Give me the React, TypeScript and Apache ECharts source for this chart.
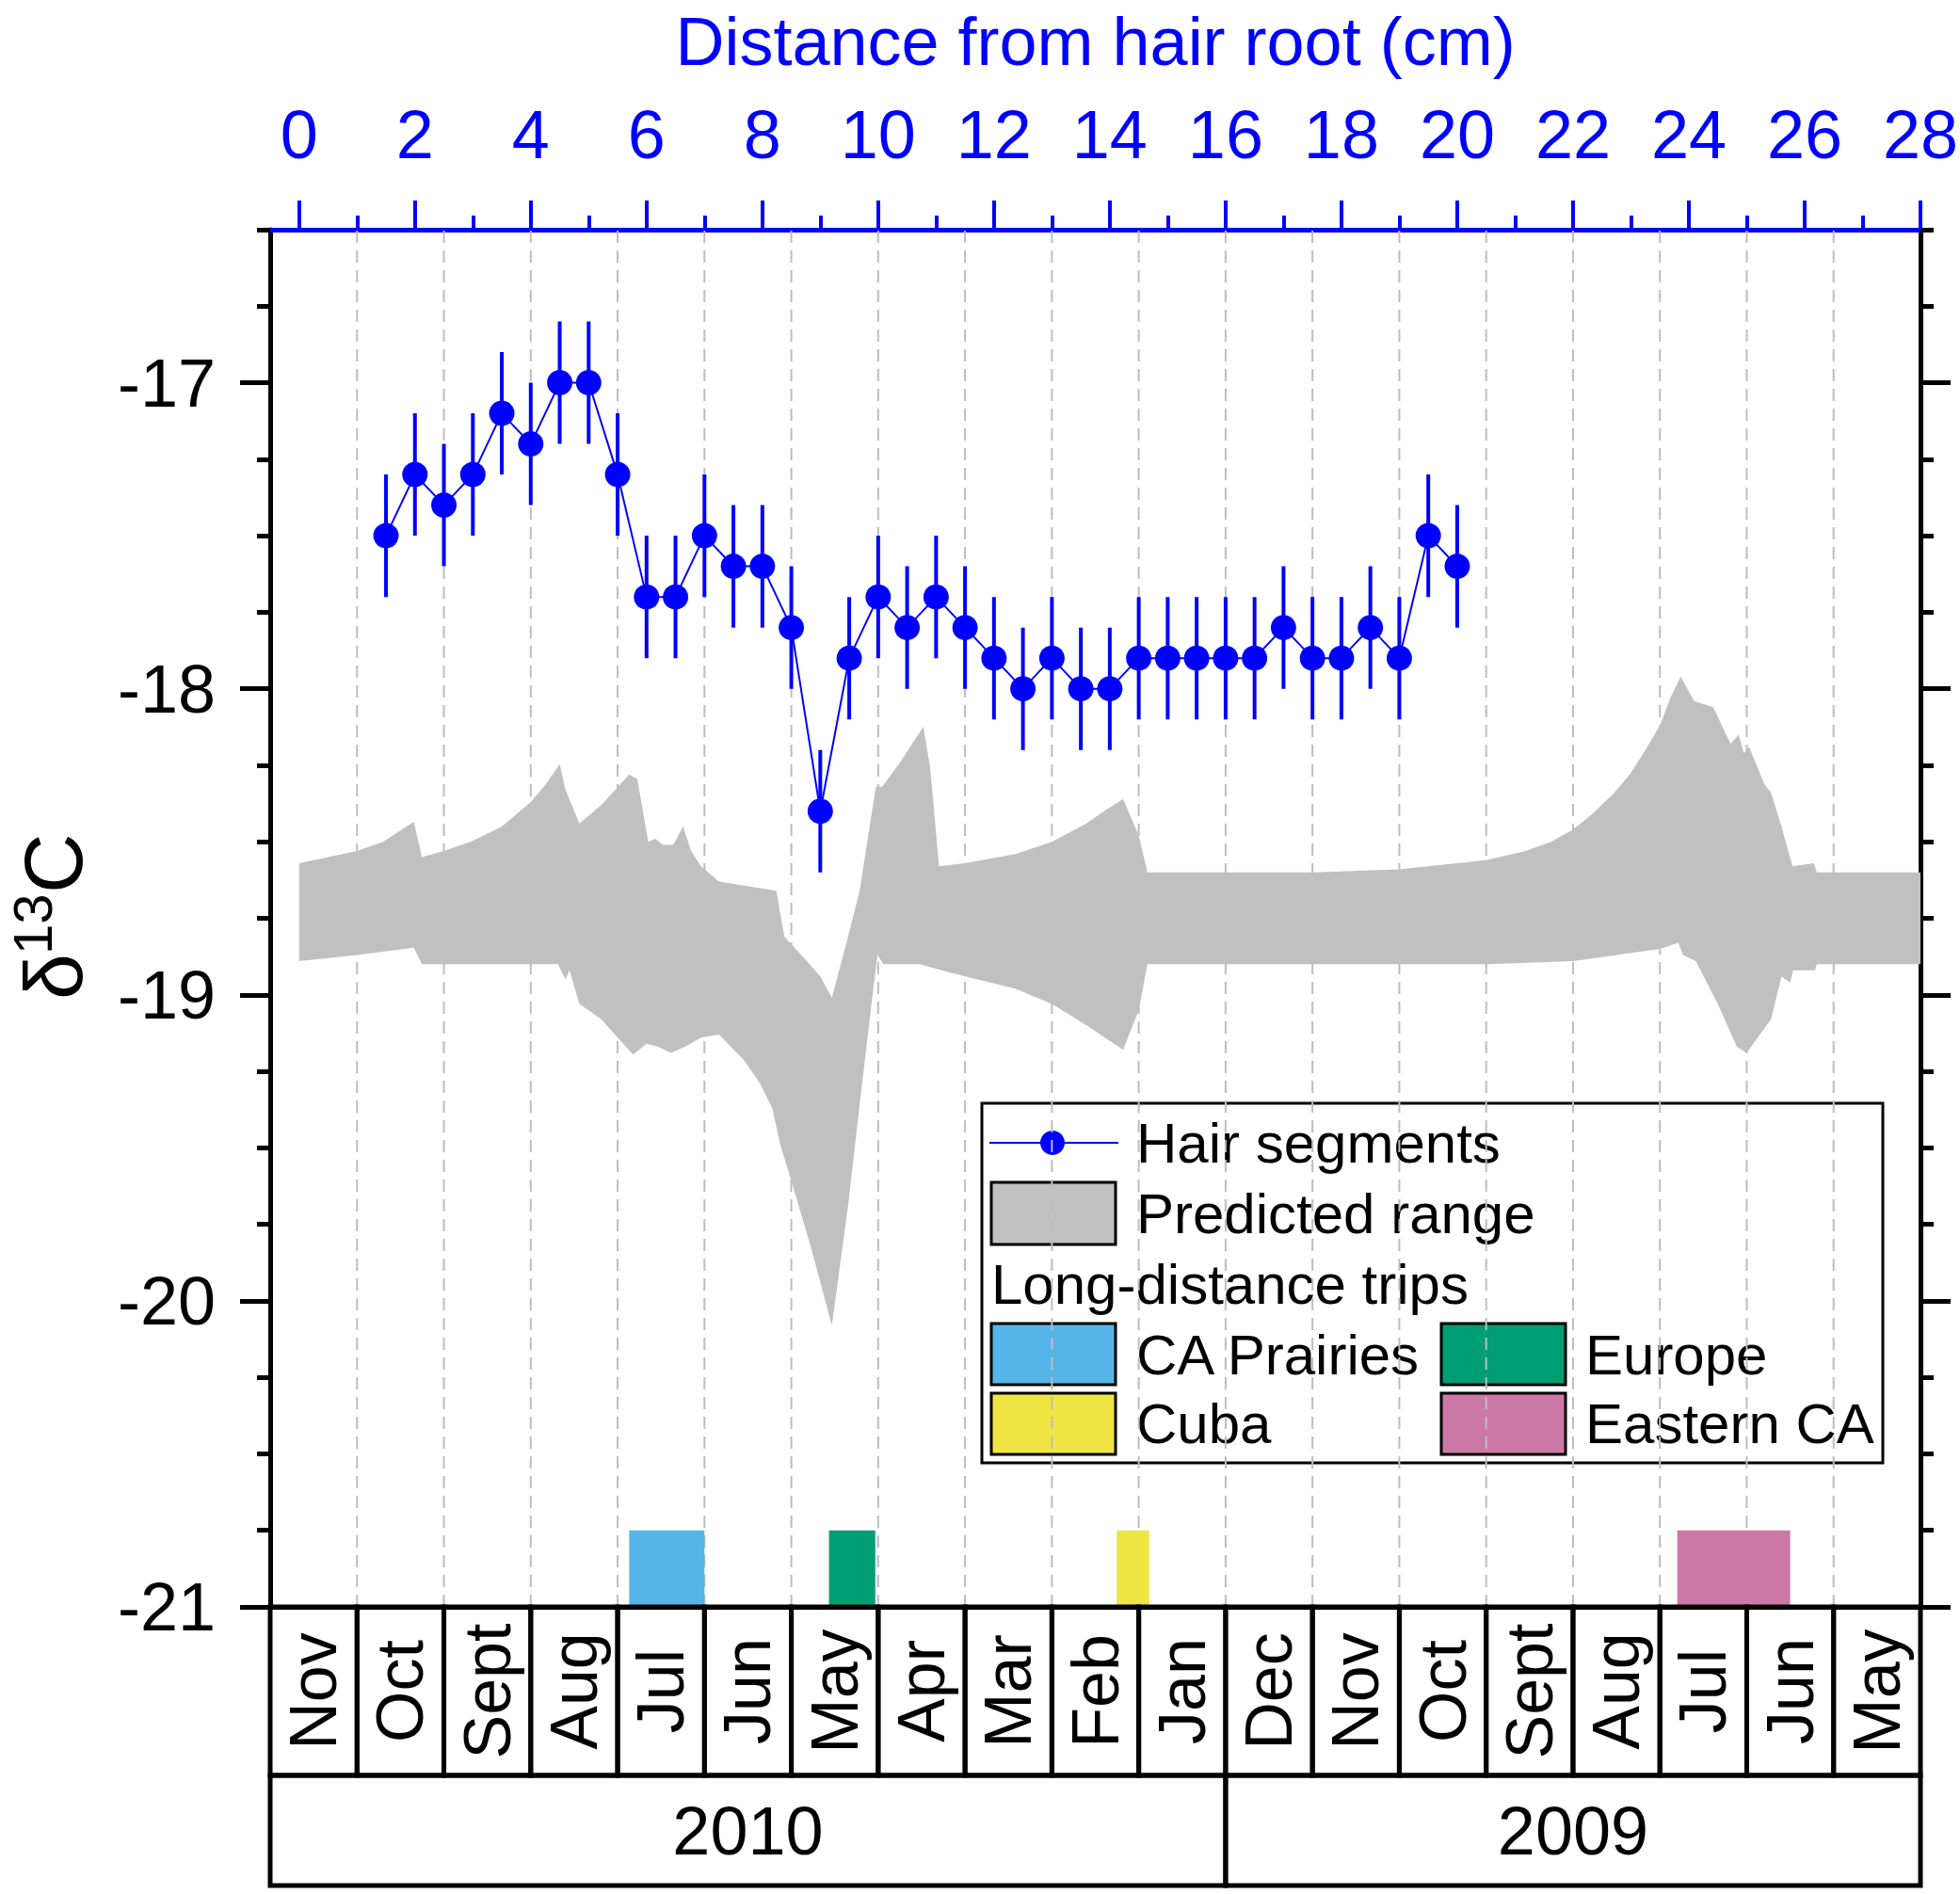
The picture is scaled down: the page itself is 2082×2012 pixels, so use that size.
import React, { useEffect, useRef } from "react";
import * as echarts from "echarts";

const FONT = '"Liberation Sans", Arial, Helvetica, sans-serif';
const BLUE = "#0000FF";

// Hair segment measurements
const hairX = [1.5, 2, 2.5, 3, 3.5, 4, 4.5, 5, 5.5, 6, 6.5, 7, 7.5, 8, 8.5, 9, 9.5, 10, 10.5, 11, 11.5, 12, 12.5, 13, 13.5, 14, 14.5, 15, 15.5, 16, 16.5, 17, 17.5, 18, 18.5, 19, 19.5, 20];
const hairY = [-17.5, -17.3, -17.4, -17.3, -17.1, -17.2, -17.0, -17.0, -17.3, -17.7, -17.7, -17.5, -17.6, -17.6, -17.8, -18.4, -17.9, -17.7, -17.8, -17.7, -17.8, -17.9, -18.0, -17.9, -18.0, -18.0, -17.9, -17.9, -17.9, -17.9, -17.9, -17.8, -17.9, -17.9, -17.8, -17.9, -17.5, -17.6];
const hairErr = [0.2, 0.2, 0.2, 0.2, 0.2, 0.2, 0.2, 0.2, 0.2, 0.2, 0.2, 0.2, 0.2, 0.2, 0.2, 0.2, 0.2, 0.2, 0.2, 0.2, 0.2, 0.2, 0.2, 0.2, 0.2, 0.2, 0.2, 0.2, 0.2, 0.2, 0.2, 0.2, 0.2, 0.2, 0.2, 0.2, 0.2, 0.2];

// Predicted range: upper and lower boundaries [x, d13C]
const bandUpper = [
  [0, -18.57], [1.0, -18.53], [1.45, -18.5], [1.98, -18.435], [2.12, -18.55], [2.5, -18.53], [2.96, -18.5], [3.5, -18.45], [4.0, -18.37], [4.25, -18.315], [4.5, -18.246], [4.6, -18.33], [4.84, -18.44], [5.22, -18.38], [5.7, -18.28], [5.84, -18.295], [6.03, -18.5], [6.15, -18.49], [6.28, -18.51], [6.46, -18.51], [6.63, -18.45], [6.77, -18.53], [6.94, -18.58], [7.25, -18.63], [8.24, -18.66], [8.38, -18.81], [8.72, -18.88], [9.0, -18.94], [9.2, -19.01], [9.48, -18.81], [9.68, -18.66], [9.96, -18.32], [10.07, -18.32], [10.38, -18.24], [10.78, -18.124], [10.9, -18.26], [11.05, -18.58], [11.5, -18.57], [12.37, -18.54], [13.0, -18.5], [13.6, -18.44], [13.9, -18.4], [14.23, -18.36], [14.5, -18.48], [14.65, -18.6], [16, -18.6], [17.5, -18.6], [19, -18.59], [20.5, -18.56], [21.18, -18.53], [21.62, -18.5], [22.0, -18.46], [22.33, -18.41], [22.71, -18.34], [22.98, -18.28], [23.25, -18.2], [23.5, -18.12], [23.68, -18.03], [23.86, -17.96], [24.09, -18.04], [24.42, -18.06], [24.72, -18.18], [24.86, -18.15], [24.95, -18.21], [25.04, -18.19], [25.3, -18.31], [25.42, -18.34], [25.6, -18.45], [25.79, -18.58], [26.16, -18.57], [26.21, -18.6], [28, -18.6],
];
const bandLower = [
  [0, -18.89], [1.0, -18.87], [1.82, -18.85], [1.98, -18.846], [2.12, -18.9], [4.47, -18.9], [4.6, -18.95], [4.67, -18.92], [4.84, -19.03], [5.22, -19.08], [5.5, -19.14], [5.77, -19.195], [6.0, -19.16], [6.2, -19.17], [6.42, -19.19], [6.66, -19.17], [6.94, -19.14], [7.25, -19.13], [7.69, -19.215], [7.96, -19.29], [8.17, -19.37], [8.31, -19.49], [8.52, -19.62], [8.86, -19.84], [9.2, -20.08], [9.48, -19.69], [9.68, -19.36], [9.89, -19.02], [9.99, -18.87], [10.09, -18.9], [10.72, -18.9], [11.1, -18.92], [11.5, -18.94], [12.37, -18.98], [13.0, -19.03], [13.6, -19.1], [14.23, -19.18], [14.5, -19.05], [14.65, -18.9], [19.85, -18.9], [20.53, -18.9], [22.0, -18.89], [23.5, -18.85], [23.82, -18.83], [23.9, -18.87], [24.12, -18.89], [24.5, -19.03], [24.83, -19.17], [25.0, -19.19], [25.15, -19.15], [25.42, -19.08], [25.6, -18.94], [25.75, -18.96], [25.8, -18.92], [26.18, -18.92], [26.21, -18.9], [28, -18.9],
];

// Long-distance trips
const tripNames = ["CA Prairies", "Europe", "Cuba", "Eastern CA"];
const tripStart = [5.7, 9.15, 14.12, 23.8];
const tripEnd = [7.0, 9.95, 14.68, 25.75];
const tripTop = -20.75;
const tripColors = ["#56B4E9", "#009E73", "#F0E442", "#CC79A7"];

// Calendar table
const months = ["Nov", "Oct", "Sept", "Aug", "Jul", "Jun", "May", "Apr", "Mar", "Feb", "Jan", "Dec", "Nov", "Oct", "Sept", "Aug", "Jul", "Jun", "May"];
const monthEdges = [-0.5, 1, 2.5, 4, 5.5, 7, 8.5, 10, 11.5, 13, 14.5, 16, 17.5, 19, 20.5, 22, 23.5, 25, 26.5, 28];
const years = ["2010", "2009"];
const yearEdges = [-0.5, 16, 28];

// Axes
const xMin = -0.5;
const xMax = 28;
const yMin = -21;
const yMax = -16.5;
const topMajorTicks = [0, 2, 4, 6, 8, 10, 12, 14, 16, 18, 20, 22, 24, 26, 28];
const topMinorTicks = [1, 3, 5, 7, 9, 11, 13, 15, 17, 19, 21, 23, 25, 27];
const yMajorTicks = [-21, -20, -19, -18, -17];
const yMinorTicks = [-20.75, -20.5, -20.25, -19.75, -19.5, -19.25, -18.75, -18.5, -18.25, -17.75, -17.5, -17.25, -16.75, -16.5];

const MONTH_ROW_H = 179;
const YEAR_ROW_H = 117;
const BORDER_W = 5;

export default function App() {
  const ref = useRef<HTMLDivElement>(null);

  useEffect(() => {
    document.body.style.margin = "0";
    if (!ref.current) return;
    const chart = echarts.init(ref.current, undefined, { renderer: "svg" });

    const valueAxisBase = { type: "value", min: xMin, max: xMax, splitLine: { show: false } };
    const yAxisBase = { type: "value", min: yMin, max: yMax, splitLine: { show: false } };

    const option: any = {
      animation: false,
      backgroundColor: "#ffffff",
      textStyle: { fontFamily: FONT },
      grid: { left: 287, right: 42, top: 244, bottom: 305, containLabel: false, outerBoundsMode: "none" },
      xAxis: [
        {
          ...valueAxisBase,
          position: "bottom",
          z: 10,
          axisLine: { show: true, onZero: false, lineStyle: { color: "#000", width: BORDER_W } },
          axisTick: { show: false },
          axisLabel: { show: false },
        },
        {
          ...valueAxisBase,
          position: "top",
          name: "Distance from hair root (cm)",
          nameLocation: "middle",
          nameGap: 164,
          nameTextStyle: { fontSize: 72, color: BLUE, fontFamily: FONT },
          axisLine: { show: true, onZero: false, lineStyle: { color: BLUE, width: 5 } },
          axisTick: { show: true, inside: false, length: 31, customValues: topMajorTicks, lineStyle: { color: BLUE, width: 4 } },
          axisLabel: { show: true, customValues: topMajorTicks, margin: 65, fontSize: 72, color: BLUE, fontFamily: FONT },
        },
        {
          ...valueAxisBase,
          position: "top",
          axisLine: { show: false, onZero: false },
          axisTick: { show: true, inside: false, length: 15, customValues: topMinorTicks, lineStyle: { color: BLUE, width: 4 } },
          axisLabel: { show: false },
        },
      ],
      yAxis: [
        {
          ...yAxisBase,
          position: "left",
          axisLine: { show: true, onZero: false, lineStyle: { color: "#000", width: BORDER_W } },
          axisTick: { show: true, inside: false, length: 32, customValues: yMajorTicks, lineStyle: { color: "#000", width: 5 } },
          axisLabel: { show: true, customValues: yMajorTicks, margin: 58, fontSize: 72, color: "#000", fontFamily: FONT },
        },
        {
          ...yAxisBase,
          position: "left",
          axisLine: { show: false, onZero: false },
          axisTick: { show: true, inside: false, length: 14, customValues: yMinorTicks, lineStyle: { color: "#000", width: 5 } },
          axisLabel: { show: false },
        },
        {
          ...yAxisBase,
          position: "right",
          axisLine: { show: true, onZero: false, lineStyle: { color: "#000", width: BORDER_W } },
          axisTick: { show: true, inside: false, length: 32, customValues: yMajorTicks, lineStyle: { color: "#000", width: 5 } },
          axisLabel: { show: false },
        },
        {
          ...yAxisBase,
          position: "right",
          axisLine: { show: false, onZero: false },
          axisTick: { show: true, inside: false, length: 14, customValues: yMinorTicks, lineStyle: { color: "#000", width: 5 } },
          axisLabel: { show: false },
        },
      ],
      series: [
        {
          name: "Month grid",
          type: "custom",
          z: 1,
          silent: true,
          data: monthEdges.slice(1, -1).map((x) => [x, yMin]),
          renderItem: (params: any, api: any) => {
            const x = api.value(0);
            const p0 = api.coord([x, yMin]);
            const p1 = api.coord([x, yMax]);
            return {
              type: "line",
              shape: { x1: p0[0], y1: p0[1], x2: p1[0], y2: p1[1] },
              style: { stroke: "#BDBDBD", lineWidth: 2, lineDash: [13, 8] },
            };
          },
        },
        {
          name: "Predicted range",
          type: "custom",
          z: 2,
          silent: true,
          data: [[0, -18.7]],
          renderItem: (params: any, api: any) => {
            const pts = bandUpper.map((p) => api.coord(p)).concat(
              bandLower.slice().reverse().map((p) => api.coord(p))
            );
            return { type: "polygon", shape: { points: pts }, style: { fill: "#C0C0C0", stroke: "none" } };
          },
        },
        {
          name: "Long-distance trips",
          type: "custom",
          z: 3,
          silent: true,
          data: tripStart.map((s, i) => [s, tripEnd[i], i]),
          renderItem: (params: any, api: any) => {
            const i = api.value(2);
            const p0 = api.coord([api.value(0), yMin]);
            const p1 = api.coord([api.value(1), tripTop]);
            return {
              type: "rect",
              shape: { x: p0[0], y: p1[1], width: p1[0] - p0[0], height: p0[1] - p1[1] },
              style: { fill: tripColors[i], stroke: "none" },
            };
          },
        },
        {
          name: "Error bars",
          type: "custom",
          z: 4,
          silent: true,
          data: hairX.map((x, i) => [x, hairY[i] - hairErr[i], hairY[i] + hairErr[i]]),
          renderItem: (params: any, api: any) => {
            const lo = api.coord([api.value(0), api.value(1)]);
            const hi = api.coord([api.value(0), api.value(2)]);
            return {
              type: "line",
              shape: { x1: lo[0], y1: lo[1], x2: hi[0], y2: hi[1] },
              style: { stroke: BLUE, lineWidth: 4 },
            };
          },
        },
        {
          name: "Hair segments",
          type: "line",
          z: 5,
          data: hairX.map((x, i) => [x, hairY[i]]),
          symbol: "circle",
          symbolSize: 27,
          itemStyle: { color: BLUE },
          lineStyle: { color: BLUE, width: 2 },
        },
        {
          name: "Months",
          type: "custom",
          z: 6,
          silent: true,
          clip: false,
          data: months.map((m, i) => [monthEdges[i], monthEdges[i + 1], i]),
          renderItem: (params: any, api: any) => {
            const i = api.value(2);
            const p0 = api.coord([api.value(0), yMin]);
            const p1 = api.coord([api.value(1), yMin]);
            const cx = (p0[0] + p1[0]) / 2;
            const cy = p0[1] + MONTH_ROW_H / 2;
            return {
              type: "group",
              children: [
                {
                  type: "rect",
                  shape: { x: p0[0], y: p0[1], width: p1[0] - p0[0], height: MONTH_ROW_H },
                  style: { fill: "none", stroke: "#000", lineWidth: BORDER_W },
                },
                {
                  type: "text",
                  x: cx,
                  y: cy,
                  rotation: Math.PI / 2,
                  style: {
                    text: months[i],
                    fill: "#000",
                    fontSize: 70,
                    fontFamily: FONT,
                    align: "center",
                    verticalAlign: "middle",
                  },
                },
              ],
            };
          },
        },
        {
          name: "Years",
          type: "custom",
          z: 6,
          silent: true,
          clip: false,
          data: years.map((y, i) => [yearEdges[i], yearEdges[i + 1], i]),
          renderItem: (params: any, api: any) => {
            const i = api.value(2);
            const p0 = api.coord([api.value(0), yMin]);
            const p1 = api.coord([api.value(1), yMin]);
            const top = p0[1] + MONTH_ROW_H;
            return {
              type: "group",
              children: [
                {
                  type: "rect",
                  shape: { x: p0[0], y: top, width: p1[0] - p0[0], height: YEAR_ROW_H },
                  style: { fill: "none", stroke: "#000", lineWidth: BORDER_W },
                },
                {
                  type: "text",
                  x: (p0[0] + p1[0]) / 2,
                  y: top + YEAR_ROW_H / 2,
                  style: {
                    text: years[i],
                    fill: "#000",
                    fontSize: 72,
                    fontFamily: FONT,
                    align: "center",
                    verticalAlign: "middle",
                  },
                },
              ],
            };
          },
        },
      ],
      graphic: [
        // y-axis title: delta 13 C (rotated)
        {
          type: "group",
          x: 6,
          y: 977,
          rotation: Math.PI / 2,
          z: 50,
          children: [
            { type: "text", x: -85, y: 50, style: { text: "δ", fontSize: 88, fontFamily: FONT, fill: "#000", align: "left", verticalAlign: "middle" } },
            { type: "text", x: -37, y: 28, style: { text: "13", fontSize: 58, fontFamily: FONT, fill: "#000", align: "left", verticalAlign: "middle" } },
            { type: "text", x: 28, y: 50, style: { text: "C", fontSize: 88, fontFamily: FONT, fill: "#000", align: "left", verticalAlign: "middle" } },
          ],
        },
        // legend
        {
          type: "group",
          z: 100,
          children: [
            { type: "rect", shape: { x: 1043, y: 1172, width: 957, height: 382 }, style: { fill: "#fff", stroke: "#000", lineWidth: 3 } },
            { type: "line", shape: { x1: 1051, y1: 1214, x2: 1188, y2: 1214 }, style: { stroke: BLUE, lineWidth: 2 } },
            { type: "circle", shape: { cx: 1118, cy: 1214, r: 13 }, style: { fill: BLUE } },
            { type: "text", x: 1207, y: 1214, style: { text: "Hair segments", fontSize: 60, fontFamily: FONT, fill: "#000", align: "left", verticalAlign: "middle" } },
            { type: "rect", shape: { x: 1053, y: 1256, width: 132, height: 66 }, style: { fill: "#C0C0C0", stroke: "#000", lineWidth: 3 } },
            { type: "text", x: 1207, y: 1289, style: { text: "Predicted range", fontSize: 60, fontFamily: FONT, fill: "#000", align: "left", verticalAlign: "middle" } },
            { type: "text", x: 1053, y: 1364, style: { text: "Long-distance trips", fontSize: 60, fontFamily: FONT, fill: "#000", align: "left", verticalAlign: "middle" } },
            { type: "rect", shape: { x: 1053, y: 1406, width: 132, height: 65 }, style: { fill: tripColors[0], stroke: "#000", lineWidth: 3 } },
            { type: "text", x: 1207, y: 1439, style: { text: tripNames[0], fontSize: 60, fontFamily: FONT, fill: "#000", align: "left", verticalAlign: "middle" } },
            { type: "rect", shape: { x: 1531, y: 1406, width: 132, height: 65 }, style: { fill: tripColors[1], stroke: "#000", lineWidth: 3 } },
            { type: "text", x: 1684, y: 1439, style: { text: tripNames[1], fontSize: 60, fontFamily: FONT, fill: "#000", align: "left", verticalAlign: "middle" } },
            { type: "rect", shape: { x: 1053, y: 1480, width: 132, height: 65 }, style: { fill: tripColors[2], stroke: "#000", lineWidth: 3 } },
            { type: "text", x: 1207, y: 1512, style: { text: tripNames[2], fontSize: 60, fontFamily: FONT, fill: "#000", align: "left", verticalAlign: "middle" } },
            { type: "rect", shape: { x: 1531, y: 1480, width: 132, height: 65 }, style: { fill: tripColors[3], stroke: "#000", lineWidth: 3 } },
            { type: "text", x: 1684, y: 1512, style: { text: tripNames[3], fontSize: 60, fontFamily: FONT, fill: "#000", align: "left", verticalAlign: "middle" } },
          ],
        },
      ],
    };

    chart.setOption(option);
    return () => {
      chart.dispose();
    };
  }, []);

  return <div ref={ref} style={{ width: 2082, height: 2012 }} />;
}
